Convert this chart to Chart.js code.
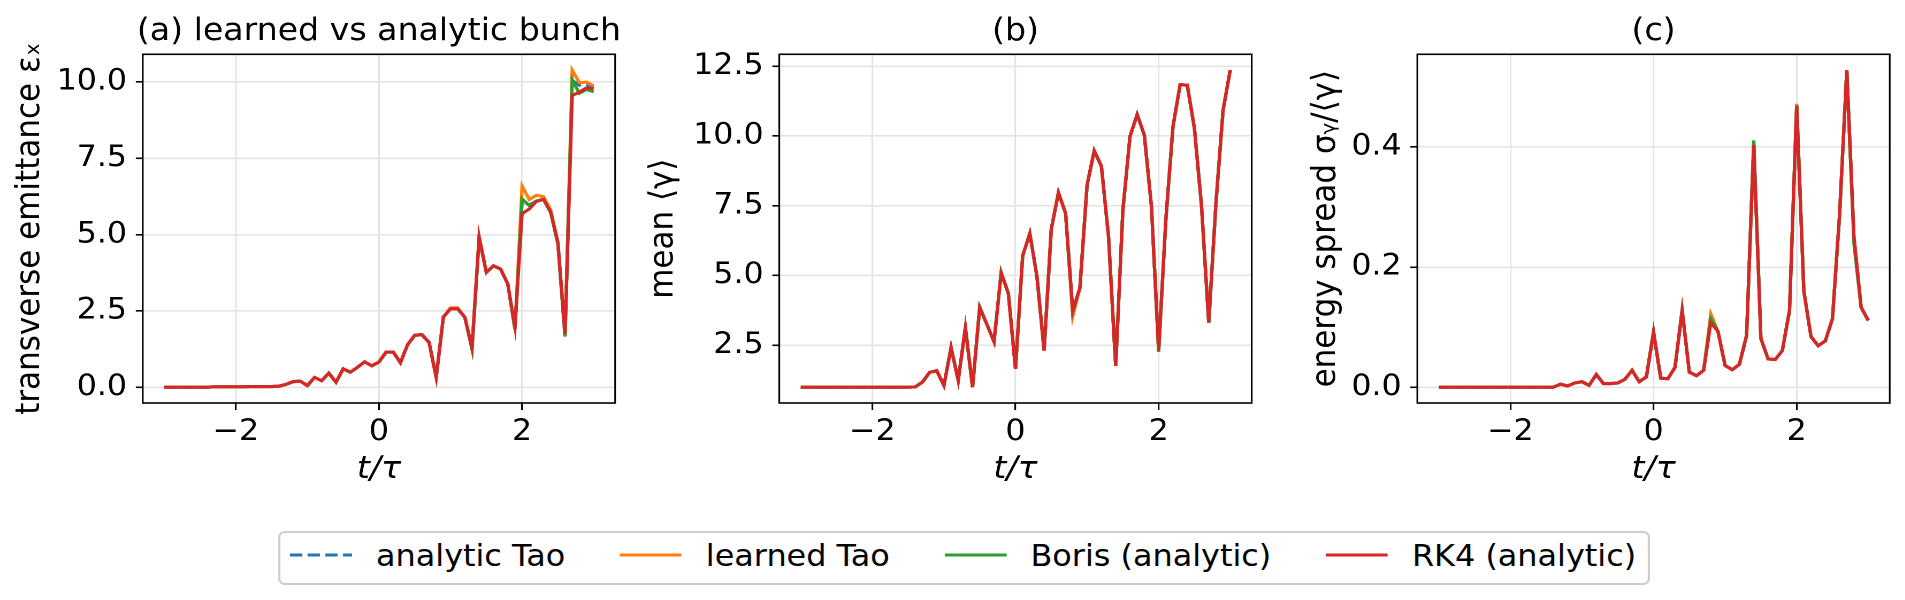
<!DOCTYPE html>
<html>
<head>
<meta charset="utf-8">
<title>learned vs analytic bunch</title>
<script src="https://cdn.jsdelivr.net/npm/chart.js@4.4.1/dist/chart.umd.min.js"></script>
<style>
  html, body { margin: 0; padding: 0; background: #fff; overflow: hidden; }
  /* the reference is a little wider than tall, so the whole figure is stretched sideways */
  #fig { position: absolute; left: 0; top: 0; width: 1781px; height: 600px;
         transform: scaleX(1.07); transform-origin: 0 0; font-family: 'DejaVu Sans', sans-serif; }
  #fig canvas { position: absolute; top: 0; }
  #legend { position: absolute; left: 260px; top: 531px; height: 54px; box-sizing: border-box;
            border: 2px solid #cccccc; border-radius: 6px; background: #fff;
            display: flex; align-items: center; padding: 0 11px 6px 9px;
            font-size: 29.8px; color: #000; white-space: nowrap; }
  .item { display: flex; align-items: center; }
  .item + .item { margin-left: 51px; }
  .item svg { width: 58px; height: 10px; margin-right: 22.4px; }
</style>
</head>
<body>
<div id="fig">
  <canvas id="panelA"></canvas>
  <canvas id="panelB"></canvas>
  <canvas id="panelC"></canvas>
  <div id="legend">
    <div class="item"><svg viewBox="0 0 58 10"><line x1="0" y1="5" x2="58" y2="5" stroke="#1f77b4" stroke-width="3.1" stroke-dasharray="11.5 5"/></svg><span>analytic Tao</span></div>
    <div class="item"><svg viewBox="0 0 58 10"><line x1="0" y1="5" x2="58" y2="5" stroke="#ff7f0e" stroke-width="3.1"/></svg><span>learned Tao</span></div>
    <div class="item"><svg viewBox="0 0 58 10"><line x1="0" y1="5" x2="58" y2="5" stroke="#2ca02c" stroke-width="3.1"/></svg><span>Boris (analytic)</span></div>
    <div class="item"><svg viewBox="0 0 58 10"><line x1="0" y1="5" x2="58" y2="5" stroke="#d62728" stroke-width="3.1"/></svg><span>RK4 (analytic)</span></div>
  </div>
</div>
<script>
// time axis t/tau
const tTau = [
  -3.0, -2.9, -2.8, -2.7, -2.6, -2.5, -2.4, -2.3, -2.2, -2.1,
  -2.0, -1.9, -1.8, -1.7, -1.6, -1.5, -1.4, -1.3, -1.2, -1.1,
  -1.0, -0.9, -0.8, -0.7, -0.6, -0.5, -0.4, -0.3, -0.2, -0.1,
  0.0, 0.1, 0.2, 0.3, 0.4, 0.5, 0.6, 0.7, 0.8, 0.9,
  1.0, 1.1, 1.2, 1.3, 1.4, 1.5, 1.6, 1.7, 1.8, 1.9,
  2.0, 2.1, 2.2, 2.3, 2.4, 2.5, 2.6, 2.7, 2.8, 2.9,
  3.0
];

// (a) transverse emittance
const emitAnalyticTao = [
  0.00, 0.00, 0.00, 0.00, 0.00, 0.00, 0.00, 0.01, 0.01, 0.01,
  0.01, 0.01, 0.02, 0.02, 0.02, 0.02, 0.03, 0.09, 0.18, 0.20,
  0.05, 0.32, 0.21, 0.46, 0.16, 0.60, 0.49, 0.65, 0.83, 0.70,
  0.82, 1.15, 1.15, 0.80, 1.39, 1.70, 1.72, 1.47, 0.33, 2.30,
  2.57, 2.57, 2.29, 1.25, 4.91, 3.76, 3.98, 3.87, 3.38, 1.90,
  6.10, 5.97, 6.10, 6.16, 5.72, 4.70, 1.66, 10.05, 9.90, 9.92,
  9.82
];
const emitLearnedTao = [
  0.00, 0.00, 0.00, 0.00, 0.00, 0.00, 0.00, 0.01, 0.01, 0.01,
  0.01, 0.01, 0.02, 0.02, 0.02, 0.02, 0.03, 0.09, 0.18, 0.20,
  0.05, 0.32, 0.21, 0.46, 0.16, 0.60, 0.49, 0.65, 0.83, 0.70,
  0.82, 1.15, 1.15, 0.80, 1.39, 1.70, 1.72, 1.47, 0.30, 2.30,
  2.60, 2.60, 2.29, 1.28, 4.93, 3.76, 3.98, 3.87, 3.38, 1.93,
  6.59, 6.15, 6.29, 6.24, 5.80, 4.72, 1.70, 10.39, 9.98, 10.00,
  9.87
];
const emitBoris = [
  0.00, 0.00, 0.00, 0.00, 0.00, 0.00, 0.00, 0.01, 0.01, 0.01,
  0.01, 0.01, 0.02, 0.02, 0.02, 0.02, 0.03, 0.09, 0.18, 0.20,
  0.05, 0.32, 0.21, 0.46, 0.16, 0.60, 0.49, 0.65, 0.83, 0.70,
  0.82, 1.15, 1.15, 0.80, 1.39, 1.70, 1.72, 1.47, 0.33, 2.30,
  2.57, 2.57, 2.29, 1.25, 4.91, 3.76, 3.98, 3.87, 3.38, 1.90,
  6.17, 5.95, 6.10, 6.16, 5.72, 4.70, 1.66, 10.07, 9.63, 9.76,
  9.68
];
const emitRK4 = [
  0.00, 0.00, 0.00, 0.00, 0.00, 0.00, 0.00, 0.01, 0.01, 0.01,
  0.01, 0.01, 0.02, 0.02, 0.02, 0.02, 0.03, 0.09, 0.18, 0.20,
  0.05, 0.32, 0.21, 0.46, 0.16, 0.60, 0.49, 0.65, 0.83, 0.70,
  0.82, 1.15, 1.15, 0.80, 1.39, 1.70, 1.72, 1.47, 0.33, 2.30,
  2.57, 2.57, 2.29, 1.30, 4.91, 3.76, 3.98, 3.87, 3.38, 1.97,
  5.69, 5.84, 6.09, 6.15, 5.74, 4.75, 1.74, 9.56, 9.67, 9.81,
  9.78
];

// (b) mean gamma
const gammaAnalyticTao = [
  1.00, 1.00, 1.00, 1.00, 1.00, 1.00, 1.00, 1.00, 1.00, 1.00,
  1.00, 1.00, 1.00, 1.00, 1.00, 1.00, 1.01, 1.18, 1.53, 1.59,
  1.06, 2.42, 1.24, 3.13, 1.00, 3.86, 3.25, 2.63, 5.10, 4.36,
  1.66, 5.70, 6.51, 4.96, 2.31, 6.66, 7.97, 7.23, 3.71, 4.56,
  8.24, 9.47, 8.92, 6.39, 1.76, 7.34, 9.99, 10.77, 10.03, 7.46,
  2.28, 6.99, 10.33, 11.84, 11.82, 10.27, 7.46, 3.31, 7.58, 10.92,
  12.36
];
const gammaLearnedTao = [
  1.00, 1.00, 1.00, 1.00, 1.00, 1.00, 1.00, 1.00, 1.00, 1.00,
  1.00, 1.00, 1.00, 1.00, 1.00, 1.00, 1.01, 1.18, 1.53, 1.59,
  1.06, 2.42, 1.24, 3.13, 1.00, 3.86, 3.25, 2.63, 5.10, 4.36,
  1.66, 5.70, 6.51, 4.96, 2.31, 6.66, 7.97, 7.23, 3.53, 4.56,
  8.24, 9.47, 8.92, 6.39, 1.76, 7.34, 9.99, 10.77, 10.03, 7.46,
  2.31, 6.99, 10.33, 11.84, 11.82, 10.27, 7.46, 3.31, 7.58, 10.92,
  12.36
];
const gammaBoris = [
  1.00, 1.00, 1.00, 1.00, 1.00, 1.00, 1.00, 1.00, 1.00, 1.00,
  1.00, 1.00, 1.00, 1.00, 1.00, 1.00, 1.01, 1.18, 1.53, 1.59,
  1.06, 2.42, 1.24, 3.13, 1.00, 3.86, 3.25, 2.63, 5.10, 4.36,
  1.66, 5.70, 6.51, 4.96, 2.31, 6.66, 7.97, 7.23, 3.70, 4.56,
  8.24, 9.47, 8.92, 6.39, 1.76, 7.34, 9.99, 10.77, 10.03, 7.46,
  2.26, 6.99, 10.33, 11.84, 11.82, 10.27, 7.46, 3.31, 7.58, 10.92,
  12.36
];
const gammaRK4 = [
  1.00, 1.00, 1.00, 1.00, 1.00, 1.00, 1.00, 1.00, 1.00, 1.00,
  1.00, 1.00, 1.00, 1.00, 1.00, 1.00, 1.01, 1.18, 1.53, 1.59,
  1.06, 2.42, 1.24, 3.13, 1.00, 3.86, 3.25, 2.63, 5.10, 4.36,
  1.66, 5.70, 6.51, 4.96, 2.31, 6.66, 7.97, 7.23, 3.74, 4.56,
  8.24, 9.47, 8.92, 6.39, 1.76, 7.34, 9.99, 10.77, 10.03, 7.46,
  2.31, 6.99, 10.33, 11.84, 11.82, 10.27, 7.46, 3.31, 7.58, 10.92,
  12.36
];

// (c) relative energy spread
const spreadAnalyticTao = [
  0.000, 0.000, 0.000, 0.000, 0.000, 0.000, 0.000, 0.000, 0.000, 0.000,
  0.000, 0.000, 0.000, 0.000, 0.000, 0.000, 0.000, 0.005, 0.002, 0.007,
  0.009, 0.003, 0.021, 0.006, 0.006, 0.007, 0.013, 0.028, 0.009, 0.017,
  0.092, 0.015, 0.014, 0.033, 0.128, 0.025, 0.019, 0.028, 0.112, 0.093,
  0.036, 0.029, 0.038, 0.086, 0.409, 0.081, 0.047, 0.046, 0.061, 0.128,
  0.469, 0.160, 0.084, 0.069, 0.077, 0.114, 0.289, 0.528, 0.250, 0.133,
  0.111
];
const spreadLearnedTao = [
  0.000, 0.000, 0.000, 0.000, 0.000, 0.000, 0.000, 0.000, 0.000, 0.000,
  0.000, 0.000, 0.000, 0.000, 0.000, 0.000, 0.000, 0.005, 0.002, 0.007,
  0.009, 0.003, 0.021, 0.006, 0.006, 0.007, 0.013, 0.028, 0.009, 0.017,
  0.092, 0.015, 0.014, 0.033, 0.128, 0.025, 0.019, 0.028, 0.122, 0.093,
  0.036, 0.029, 0.038, 0.086, 0.403, 0.081, 0.047, 0.046, 0.061, 0.128,
  0.472, 0.160, 0.084, 0.069, 0.077, 0.114, 0.289, 0.528, 0.250, 0.133,
  0.111
];
const spreadBoris = [
  0.000, 0.000, 0.000, 0.000, 0.000, 0.000, 0.000, 0.000, 0.000, 0.000,
  0.000, 0.000, 0.000, 0.000, 0.000, 0.000, 0.000, 0.005, 0.002, 0.007,
  0.009, 0.003, 0.021, 0.006, 0.006, 0.007, 0.013, 0.028, 0.009, 0.017,
  0.092, 0.015, 0.014, 0.033, 0.128, 0.025, 0.019, 0.028, 0.114, 0.093,
  0.036, 0.029, 0.038, 0.086, 0.411, 0.081, 0.047, 0.046, 0.061, 0.128,
  0.469, 0.160, 0.084, 0.069, 0.077, 0.114, 0.289, 0.527, 0.239, 0.133,
  0.111
];
const spreadRK4 = [
  0.000, 0.000, 0.000, 0.000, 0.000, 0.000, 0.000, 0.000, 0.000, 0.000,
  0.000, 0.000, 0.000, 0.000, 0.000, 0.000, 0.000, 0.005, 0.002, 0.007,
  0.009, 0.003, 0.021, 0.006, 0.006, 0.007, 0.013, 0.028, 0.009, 0.017,
  0.092, 0.015, 0.014, 0.033, 0.128, 0.025, 0.019, 0.028, 0.107, 0.093,
  0.036, 0.029, 0.038, 0.086, 0.403, 0.081, 0.047, 0.046, 0.061, 0.128,
  0.469, 0.160, 0.084, 0.069, 0.077, 0.114, 0.289, 0.528, 0.250, 0.133,
  0.111
];

// tick positions
const tTicks = [-2, 0, 2];
const emitTicks = [0, 2.5, 5, 7.5, 10];
const gammaTicks = [2.5, 5, 7.5, 10, 12.5];
const spreadTicks = [0, 0.2, 0.4];

Chart.defaults.font.family = "'DejaVu Sans', sans-serif";
Chart.defaults.color = '#000';

const GRID = '#e4e4e4';

// black box round the plot area plus the panel title above it
const frame = {
  id: 'frame',
  afterDatasetsDraw(chart) {
    const { ctx, chartArea: a } = chart;
    ctx.save();
    ctx.strokeStyle = '#000';
    ctx.lineWidth = 1.6;
    ctx.strokeRect(a.left, a.top, a.right - a.left, a.bottom - a.top);
    ctx.restore();
  },
  afterDraw(chart, args, opts) {
    const { ctx, chartArea: a } = chart;
    ctx.save();
    ctx.font = "31px 'DejaVu Sans', sans-serif";
    ctx.fillStyle = '#000';
    ctx.textAlign = 'center';
    ctx.textBaseline = 'alphabetic';
    ctx.fillText(opts.text, (a.left + a.right) / 2, 40);
    ctx.restore();
  }
};

const pts = ys => ys.map((y, i) => ({ x: tTau[i], y: y }));

// y limits with the usual 5% margin round the data
function limits(arrs) {
  const all = [].concat(...arrs);
  const lo = Math.min(...all), hi = Math.max(...all);
  const m = (hi - lo) * 0.05;
  return [lo - m, hi + m];
}

function makePanel(id, g, title, yTitle, series, yTicks) {
  const cv = document.getElementById(id);
  cv.width = g.width;
  cv.height = 500;
  cv.style.left = g.left + 'px';
  const [ymin, ymax] = limits(series);

  new Chart(cv, {
    type: 'line',
    data: {
      datasets: [
        { label: 'analytic Tao', data: pts(series[0]), borderColor: '#1f77b4', borderDash: [11.5, 5], order: 4 },
        { label: 'learned Tao', data: pts(series[1]), borderColor: '#ff7f0e', order: 3 },
        { label: 'Boris (analytic)', data: pts(series[2]), borderColor: '#2ca02c', order: 2 },
        { label: 'RK4 (analytic)', data: pts(series[3]), borderColor: '#d62728', order: 1 }
      ]
    },
    options: {
      responsive: false,
      animation: false,
      devicePixelRatio: 2,
      layout: { padding: { left: 0, right: g.padRight, top: 54.3, bottom: 0 } },
      elements: {
        point: { radius: 0 },
        line: { borderWidth: 3.1, tension: 0, fill: false }
      },
      plugins: {
        legend: { display: false },
        tooltip: { enabled: false },
        frame: { text: title }
      },
      scales: {
        x: {
          type: 'linear',
          min: -3.3,
          max: 3.3,
          bounds: 'data',
          afterBuildTicks: s => { s.ticks = tTicks.map(v => ({ value: v })); },
          afterFit: s => { s.height = 97; },
          ticks: {
            autoSkip: false,
            maxRotation: 0,
            padding: 4.6,
            font: { size: 29.5 },
            callback: v => (v < 0 ? '\u2212' + (-v) : '' + v)
          },
          grid: { color: GRID, lineWidth: 1.6, tickColor: '#000', tickLength: 7, tickWidth: 1.6 },
          border: { display: false },
          title: {
            display: true,
            text: 't/\u03c4',
            font: { size: 31, style: 'italic' },
            padding: { top: 0, bottom: 11.6 }
          }
        },
        y: {
          type: 'linear',
          min: ymin,
          max: ymax,
          bounds: 'data',
          afterBuildTicks: s => { s.ticks = yTicks.map(v => ({ value: v })); },
          afterFit: s => { s.width = g.yWidth; },
          ticks: {
            autoSkip: false,
            padding: 8.2,
            font: { size: 29.5 },
            callback: v => v.toFixed(1)
          },
          grid: { color: GRID, lineWidth: 1.6, tickColor: '#000', tickLength: 6.5, tickWidth: 1.6 },
          border: { display: false },
          title: {
            display: true,
            text: yTitle,
            font: { size: 31 },
            padding: { top: 0, bottom: 0 }
          }
        }
      }
    },
    plugins: [frame]
  });
}

makePanel('panelA', { left: 10, width: 573, yWidth: 123.4, padRight: 8.1 },
  '(a) learned vs analytic bunch', 'transverse emittance \u03b5\u2093',
  [emitAnalyticTao, emitLearnedTao, emitBoris, emitRK4], emitTicks);

makePanel('panelB', { left: 602, width: 576, yWidth: 126.3, padRight: 8.2 },
  '(b)', 'mean \u27e8\u03b3\u27e9',
  [gammaAnalyticTao, gammaLearnedTao, gammaBoris, gammaRK4], gammaTicks);

makePanel('panelC', { left: 1221, width: 553, yWidth: 103.6, padRight: 7.9 },
  '(c)', 'energy spread \u03c3\u1d67/\u27e8\u03b3\u27e9',
  [spreadAnalyticTao, spreadLearnedTao, spreadBoris, spreadRK4], spreadTicks);
</script>
</body>
</html>
